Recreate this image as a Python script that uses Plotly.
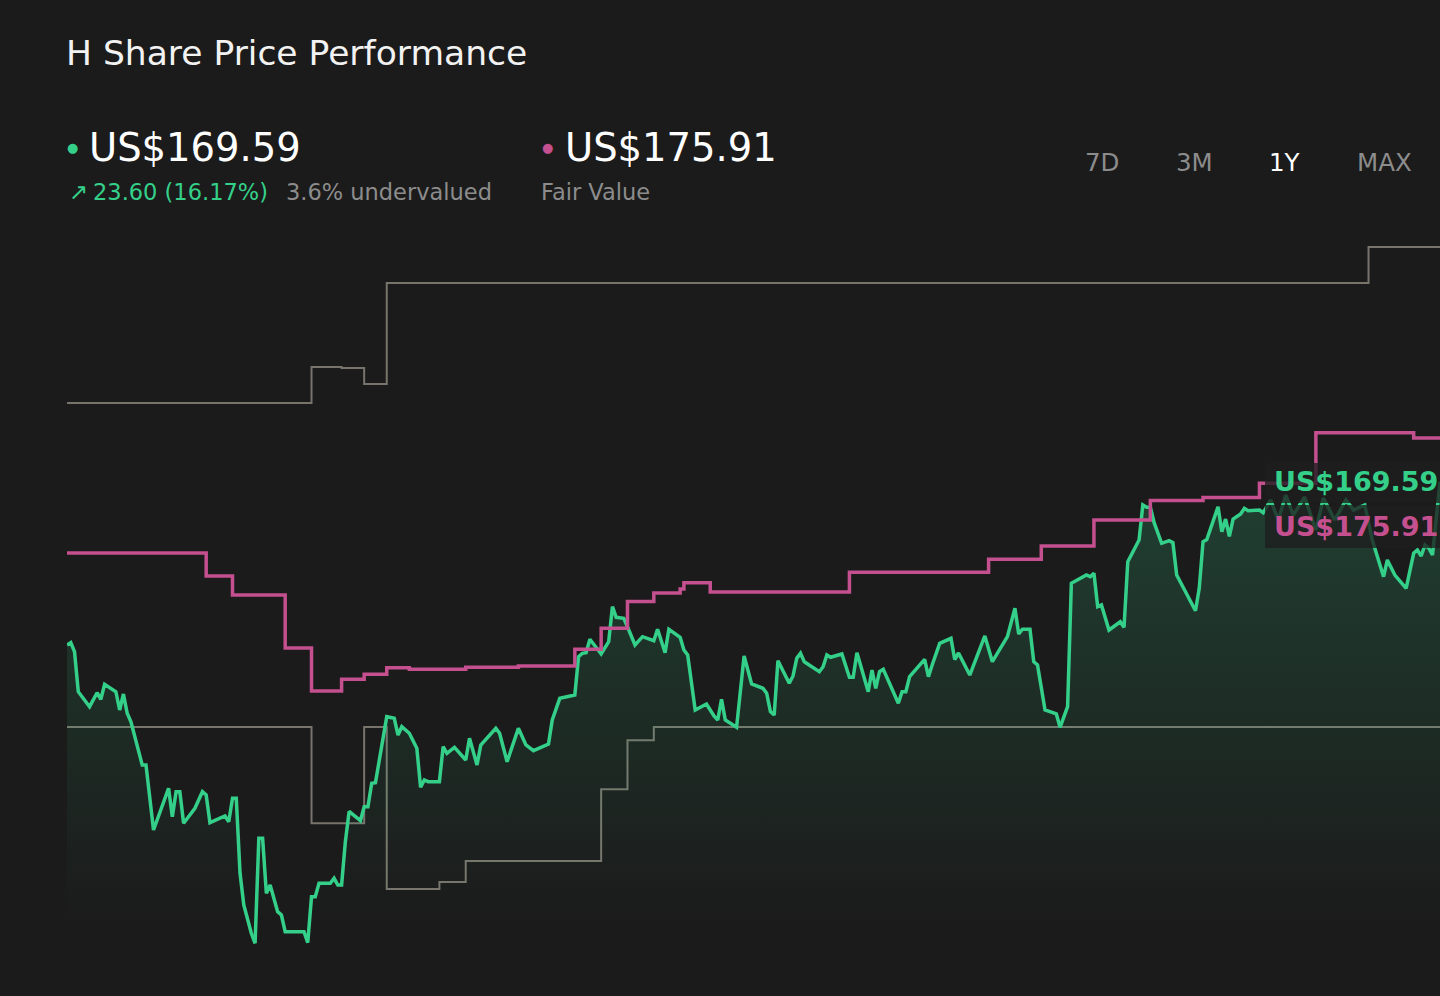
import pandas as pd
import plotly.graph_objects as go

# --- data (1Y view) ---
start = pd.Timestamp("2025-02-14")

price_days = [0, 1, 2, 3, 6, 8, 9, 10, 13, 14, 15, 16, 17, 20, 21, 23, 27, 28, 29, 30,
              31, 34, 36, 37, 38, 42, 43, 44, 45, 46, 47, 49, 50, 51, 52, 53, 54, 56, 57, 58,
              63, 64, 65, 66, 67, 70, 71, 72, 73, 74, 75, 77, 78, 79, 80, 81, 82, 85, 87, 88,
              89, 91, 92, 93, 94, 95, 96, 99, 100, 101, 103, 106, 107, 109, 110, 114, 115, 117, 120, 122,
              124, 128, 129, 131, 135, 136, 137, 138, 139, 142, 144, 145, 146, 148, 149, 151, 153, 156, 157, 159,
              160, 163, 164, 165, 167, 170, 172, 173, 174, 175, 178, 180, 182, 185, 186, 187, 188, 189, 192, 193,
              194, 195, 196, 200, 201, 202, 203, 206, 208, 209, 210, 211, 213, 214, 215, 216, 217, 221, 222, 223,
              224, 228, 229, 230, 232, 235, 236, 237, 240, 244, 246, 250, 252, 253, 254, 256, 257, 258, 260, 263,
              264, 266, 267, 271, 272, 273, 274, 275, 277, 280, 281, 282, 285, 286, 287, 288, 289, 291, 293, 294,
              295, 300, 301, 302, 303, 306, 307, 308, 309, 310, 312, 313, 314, 317, 318, 320, 322, 324, 326, 329,
              332, 334, 337, 340, 342, 345, 347, 350, 351, 353, 356, 358, 359, 360, 361, 362, 363, 365]
price_values = [145.99, 146.33, 145.03, 139.25, 137.08, 139.10, 138.15, 140.32, 139.25, 136.60,
                138.92, 136.13, 134.91, 128.66, 128.66, 119.26, 125.29, 121.18, 124.80, 124.80,
                120.23, 122.40, 124.80, 124.32, 120.32, 121.29, 120.46, 123.84, 123.84, 113.00,
                108.42, 104.33, 102.89, 118.06, 118.06, 110.11, 111.31, 107.46, 106.98, 104.57,
                104.57, 102.98, 109.62, 109.62, 111.56, 111.56, 112.28, 111.31, 111.31, 117.57,
                121.94, 121.07, 120.61, 122.63, 122.63, 126.01, 126.10, 135.64, 135.40, 132.99,
                134.19, 133.24, 132.27, 131.07, 125.43, 126.49, 126.24, 126.24, 131.30, 130.35,
                131.21, 129.38, 132.51, 128.66, 131.55, 133.96, 133.24, 129.13, 133.96, 131.55,
                130.72, 131.69, 135.16, 138.29, 138.77, 144.31, 144.80, 144.89, 146.82, 144.70,
                146.47, 151.53, 150.00, 149.85, 148.64, 146.00, 147.20, 146.62, 148.27, 144.88,
                148.27, 147.11, 145.27, 144.55, 136.60, 137.47, 135.74, 135.16, 138.15, 135.16,
                134.10, 144.41, 140.36, 139.74, 139.02, 136.36, 135.88, 143.73, 140.46, 141.52,
                144.07, 144.80, 143.58, 142.14, 142.86, 144.55, 144.22, 144.70, 141.33, 141.33,
                144.88, 142.86, 139.25, 142.38, 139.74, 142.14, 142.48, 137.57, 139.25, 139.25,
                141.42, 143.93, 141.42, 143.11, 146.24, 146.96, 143.90, 144.84, 141.66, 147.30,
                143.58, 147.20, 151.30, 147.59, 148.27, 148.27, 143.58, 143.11, 136.60, 136.03,
                134.10, 137.08, 154.91, 156.11, 155.87, 156.36, 151.53, 151.78, 148.16, 149.36,
                148.55, 158.03, 161.17, 166.23, 165.90, 165.90, 163.67, 160.69, 161.07, 160.78,
                156.11, 150.95, 154.19, 160.92, 161.24, 165.98, 162.37, 164.20, 161.70, 164.20,
                164.93, 165.75, 165.40, 165.51, 165.12, 166.95, 164.06, 167.67, 164.78, 167.38,
                162.62, 167.24, 164.06, 166.95, 165.51, 166.23, 161.17, 155.87, 158.28, 156.11,
                154.19, 159.25, 159.73, 158.86, 160.45, 160.01, 159.00, 169.59]

fv_days = [0, 37, 44, 58, 65, 73, 79, 85, 91, 106, 120, 135, 142, 149, 156, 163, 164, 171,
           208, 245, 259, 273, 288, 302, 317, 332, 358, 365]
fv_values = [159.29, 155.97, 153.22, 145.56, 139.35, 141.04, 141.76, 142.72, 142.48, 142.77,
             142.96, 145.37, 148.41, 152.28, 153.51, 154.09, 155.00, 153.66, 156.50, 158.38,
             160.30, 164.06, 166.88, 167.31, 169.36, 176.68, 175.91, 175.91]

high_days = [0, 65, 73, 79, 85, 346, 365]
high_values = [180.97, 186.17, 186.03, 183.71, 198.31, 203.51, 203.51]

low_days = [0, 65, 79, 85, 99, 106, 142, 149, 156, 365]
low_values = [134.15, 120.23, 134.15, 110.74, 111.75, 114.78, 125.14, 132.22, 134.15, 134.15]

assert len(price_days) == len(price_values)
assert len(fv_days) == len(fv_values)

title = "H Share Price Performance"
last_price = "US$169.59"
fair_value = "US$175.91"
change_text = "23.60 (16.17%)"
valuation_text = "3.6% undervalued"
fv_caption = "Fair Value"
periods = ["7D", "3M", "1Y", "MAX"]
active_period = "1Y"

GREEN = "#34d08a"
PINK = "#c4508f"
GRAY_LINE = "#78746c"
BG = "#1b1b1b"
MUTED = "#8c8c8c"
FONT = "DejaVu Sans"


def to_dates(days):
    return start + pd.to_timedelta(days, unit="D")


W, H = 1440, 996


def px(x):
    return x / W


def py(y):
    return 1 - y / H


fig = go.Figure()

# analyst range outline
fig.add_trace(go.Scatter(x=to_dates(high_days), y=high_values, mode="lines", line_shape="hv",
                         line=dict(color=GRAY_LINE, width=2), hoverinfo="skip"))
fig.add_trace(go.Scatter(x=to_dates(low_days), y=low_values, mode="lines", line_shape="hv",
                         line=dict(color=GRAY_LINE, width=2), hoverinfo="skip"))

# share price with faded fill
fig.add_trace(go.Scatter(
    x=to_dates(price_days), y=price_values, mode="lines",
    line=dict(color=GREEN, width=3.5),
    fill="tozeroy",
    fillgradient=dict(type="vertical", start=106, stop=166,
                      colorscale=[[0, "rgba(52,208,138,0)"], [1, "rgba(52,208,138,0.19)"]]),
))

# fair value
fig.add_trace(go.Scatter(x=to_dates(fv_days), y=fv_values, mode="lines", line_shape="hv",
                         line=dict(color=PINK, width=3.5)))

ann = []


def text(x, y, t, size, color, anchor="left"):
    ann.append(dict(x=px(x), y=py(y), xref="paper", yref="paper", text=t, showarrow=False,
                    xanchor=anchor, yanchor="middle",
                    font=dict(family=FONT, size=size, color=color)))


text(64, 53, title, 34.5, "#f2f2f2")
text(72, 147, "●", 13, GREEN, "center")
text(87, 147, last_price, 38.5, "#ffffff")
text(78, 192, "↗", 23, GREEN, "center")
text(91, 192, change_text, 22.5, GREEN)
text(284, 192, valuation_text, 22.5, MUTED)
text(547, 147, "●", 13, PINK, "center")
text(563, 147, fair_value, 38.5, "#ffffff")
text(539, 192, fv_caption, 22.5, MUTED)

for p, cx in zip(periods, [1102, 1194, 1285, 1384]):
    text(cx, 162, p, 24.5, "#ffffff" if p == active_period else MUTED, "center")

# value tags on the right edge
shapes = [
    dict(type="rect", xref="paper", yref="paper", x0=px(1265), x1=1, y0=py(503), y1=py(463),
         fillcolor="rgba(30,30,30,0.78)", line_width=0, layer="above"),
    dict(type="rect", xref="paper", yref="paper", x0=px(1265), x1=1, y0=py(548), y1=py(505),
         fillcolor="rgba(30,30,30,0.78)", line_width=0, layer="above"),
]
ann.append(dict(x=px(1272), y=py(481), xref="paper", yref="paper", text="<b>" + last_price + "</b>",
                showarrow=False, xanchor="left", yanchor="middle",
                font=dict(family=FONT, size=27, color=GREEN)))
ann.append(dict(x=px(1272), y=py(526), xref="paper", yref="paper", text="<b>" + fair_value + "</b>",
                showarrow=False, xanchor="left", yanchor="middle",
                font=dict(family=FONT, size=27, color=PINK)))

fig.update_layout(
    width=W, height=H,
    margin=dict(l=0, r=0, t=0, b=0),
    paper_bgcolor=BG, plot_bgcolor=BG,
    showlegend=False,
    annotations=ann,
    shapes=shapes,
    xaxis=dict(visible=False, domain=[px(67), 1],
               range=[start, start + pd.Timedelta(days=365)]),
    yaxis=dict(visible=False, domain=[py(950), py(230)], range=[101.92, 205.97]),
)

# drop the browser's default page margin so the figure fills the window
fig.write_html("out.html", config={"displayModeBar": False},
               post_script="document.body.style.margin='0';")
